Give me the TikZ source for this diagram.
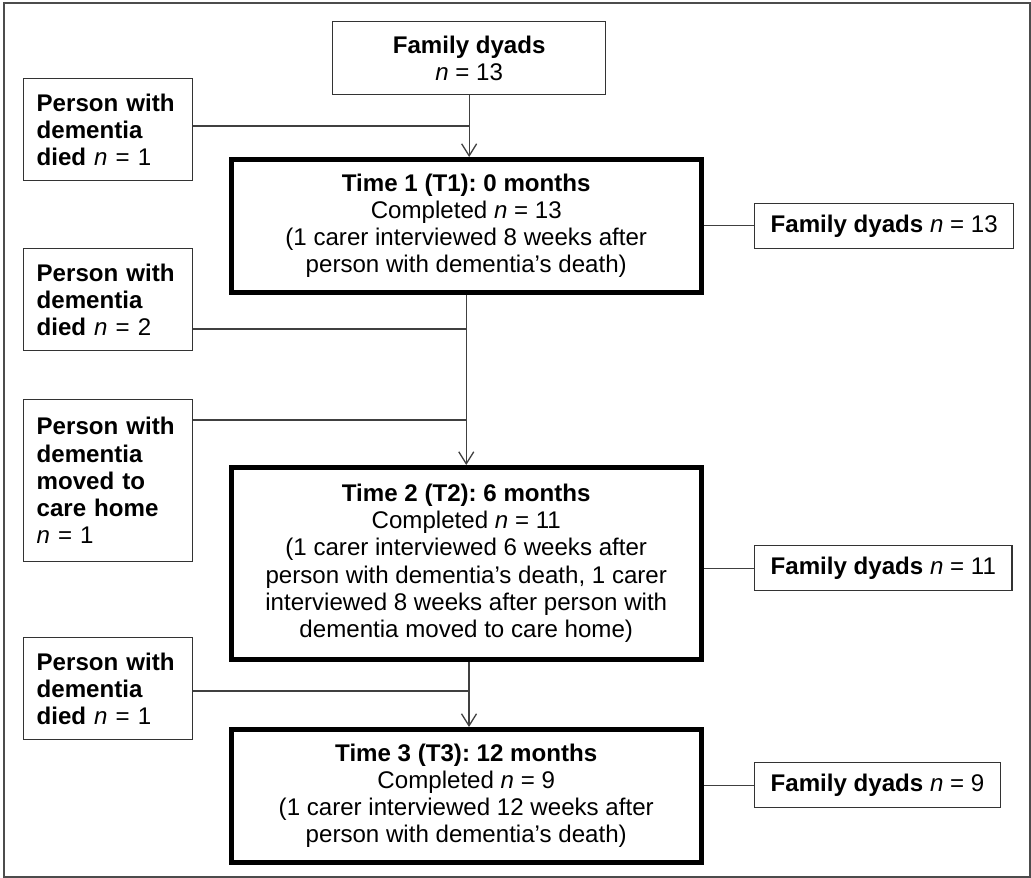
\documentclass[tikz,border=0pt]{standalone}
\usepackage{fontspec}
\setmainfont{Liberation Sans}
\usetikzlibrary{arrows.meta}
\frenchspacing

\begin{document}
\begin{tikzpicture}[x=1pt,y=-1pt,
  every node/.style={font=\fontsize{24.1}{27.2}\selectfont},
  side/.style={draw=black!80,line width=1.3pt,anchor=north west,text width=143pt,inner xsep=13pt,inner ysep=0pt,align=left,minimum height=#1},
  timebox/.style={draw=black,line width=4.5pt,anchor=north west,minimum width=470pt,minimum height=#1,align=center,inner sep=0pt},
  dyad/.style={draw=black!80,line width=1.3pt,anchor=north west,inner xsep=16pt,inner ysep=0pt,minimum height=45pt},
  link/.style={black!75,line width=1.3pt},
  arr/.style={link,-{Straight Barb[length=12pt,width=15pt]}}]
  \useasboundingbox (0,0) rectangle (1031,878);
  \draw[black!70,line width=1.2pt] (4,3) rectangle (1030,877);

  \node[draw=black!80,line width=1.3pt,anchor=north west,minimum width=273pt,minimum height=73pt,align=center,inner sep=0pt] (fam) at (332,21) {\textbf{Family dyads}\\\textit{n} = 13};
  \node[side=102pt] (died1) at (23,78) {\textbf{Person with}\\\textbf{dementia}\\\textbf{died} \textit{n} = 1};
  \node[timebox=133pt] (t1) at (229,157) {\textbf{Time 1 (T1): 0 months}\\Completed \textit{n} = 13\\(1 carer interviewed 8 weeks after\\person with dementia’s death)};
  \node[dyad] (fd1) at (754,203) {\textbf{Family dyads} \textit{n} = 13};
  \node[side=102pt] (died2) at (23,248) {\textbf{Person with}\\\textbf{dementia}\\\textbf{died} \textit{n} = 2};
  \node[side=162pt] (moved) at (23,399) {\textbf{Person with}\\\textbf{dementia}\\\textbf{moved to}\\\textbf{care home}\\\textit{n} = 1};
  \node[timebox=192pt] (t2) at (229,465) {\textbf{Time 2 (T2): 6 months}\\Completed \textit{n} = 11\\(1 carer interviewed 6 weeks after\\person with dementia’s death, 1 carer\\interviewed 8 weeks after person with\\dementia moved to care home)};
  \node[dyad] (fd2) at (754,545) {\textbf{Family dyads} \textit{n} = 11};
  \node[side=102pt] (died3) at (23,637) {\textbf{Person with}\\\textbf{dementia}\\\textbf{died} \textit{n} = 1};
  \node[timebox=133pt] (t3) at (229,727) {\textbf{Time 3 (T3): 12 months}\\Completed \textit{n} = 9\\(1 carer interviewed 12 weeks after\\person with dementia’s death)};
  \node[dyad] (fd3) at (754,762) {\textbf{Family dyads} \textit{n} = 9};

  % junctions on the main line
  \coordinate (j1) at (469,126);
  \coordinate (j2) at (464,329);
  \coordinate (j3) at (464,420);
  \coordinate (j4) at (469,691);

  \draw[arr] (fam.south) -- (fam.south |- t1.north);
  \draw[link] (died1.east |- j1) -- (j1 -| fam.south);
  \draw[arr] (t1.south) -- (t2.north);
  \draw[link] (died2.east |- j2) -- (j2 -| t1.south);
  \draw[link] (moved.east |- j3) -- (j3 -| t1.south);
  \draw[arr] (t2.south -| j4) -- (t3.north -| j4);
  \draw[link] (died3.east |- j4) -- (j4);
  \draw[link] (t1.east) -- (t1.east -| fd1.west);
  \draw[link] (fd2.west) -- (fd2.west -| t2.east);
  \draw[link] (fd3.west) -- (fd3.west -| t3.east);
\end{tikzpicture}
\end{document}
